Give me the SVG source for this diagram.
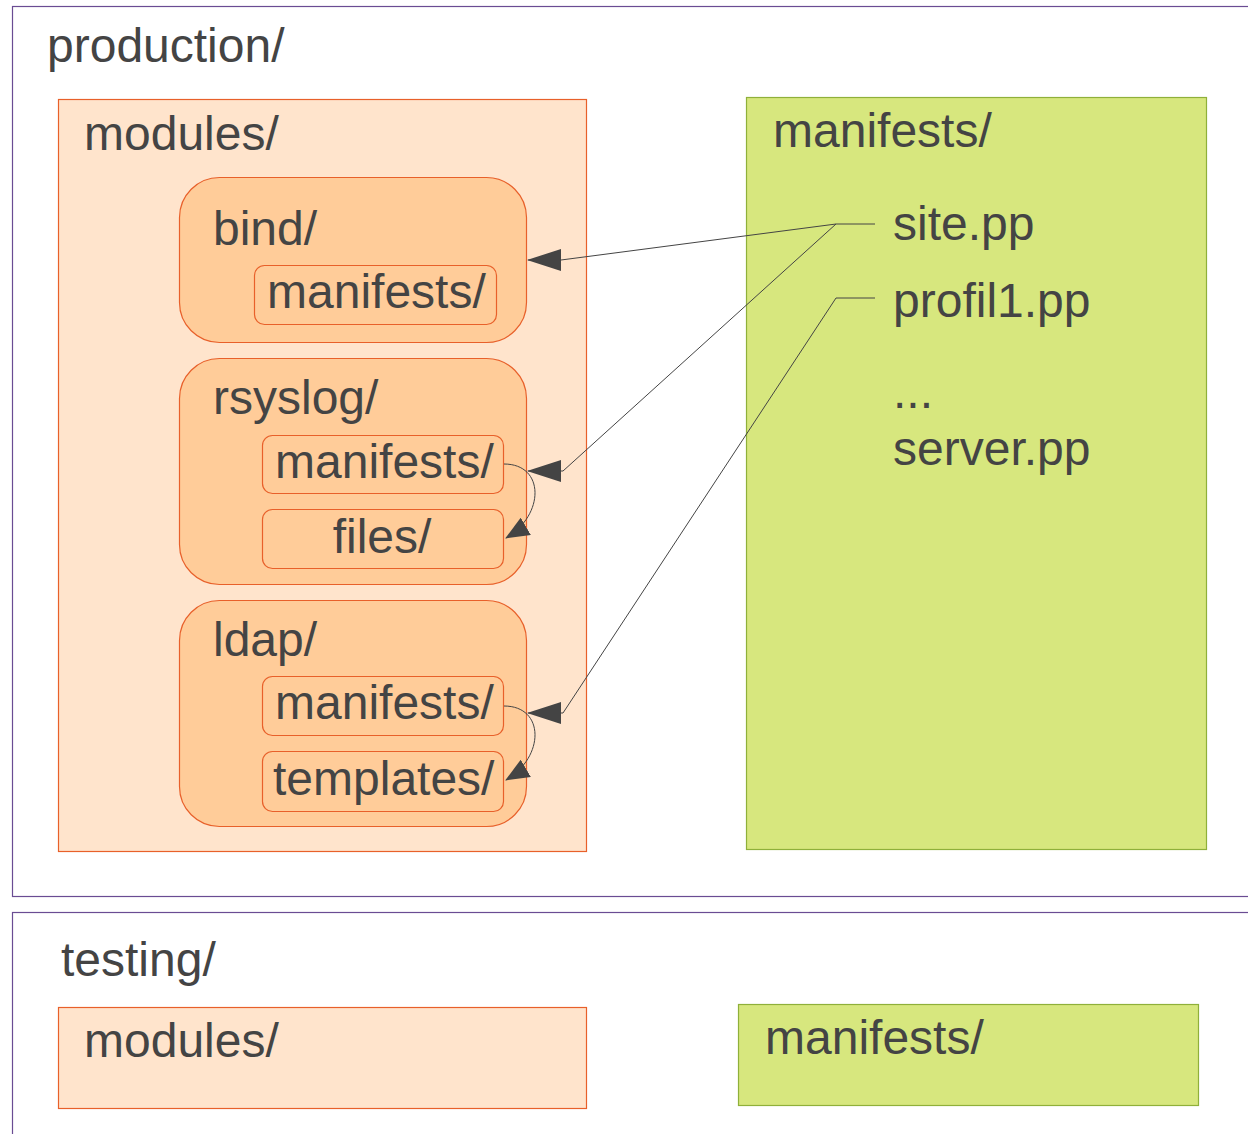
<svg xmlns="http://www.w3.org/2000/svg" width="1248" height="1134" viewBox="0 0 1248 1134">
  <defs>
    <style>
      text { font-family: "Liberation Sans", Arial, sans-serif; font-size: 48px; fill: #444444; }
      .env { fill: #ffffff; stroke: #6a4c93; stroke-width: 1.2; }
      .mods { fill: #ffe4cc; stroke: #e8602a; stroke-width: 1.2; }
      .mod { fill: #ffcc99; stroke: #e8602a; stroke-width: 1.2; }
      .sub { fill: #ffcc99; stroke: #e8602a; stroke-width: 1.2; }
      .mani { fill: #d7e77e; stroke: #8fb03a; stroke-width: 1.2; }
      .conn { fill: none; stroke: #444444; stroke-width: 1; }
    </style>
    <marker id="arrow" viewBox="0 0 34 22" refX="33" refY="11" markerWidth="34" markerHeight="22" markerUnits="userSpaceOnUse" orient="auto">
      <path d="M0,0 L34,11 L0,22 Z" fill="#444444"/>
    </marker>
    <marker id="arrowSmall" viewBox="0 0 24 20" refX="23" refY="10" markerWidth="24" markerHeight="20" markerUnits="userSpaceOnUse" orient="auto">
      <path d="M0,0 L24,10 L0,20 Z" fill="#444444"/>
    </marker>
  </defs>

  <!-- environment: production -->
  <g id="production">
    <rect class="env" x="12.5" y="6.5" width="1245" height="890"/>
    <text x="47" y="62">production/</text>
  </g>

  <!-- environment: testing -->
  <g id="testing">
    <rect class="env" x="12.5" y="912.5" width="1245" height="240"/>
    <text x="61" y="976">testing/</text>
  </g>

  <!-- production modules -->
  <g id="prod-modules">
    <rect class="mods" x="58.5" y="99.5" width="528" height="752"/>
    <text x="84" y="150">modules/</text>
  </g>

  <g id="bind">
    <rect class="mod" x="179.5" y="177.5" width="347" height="165" rx="40"/>
    <text x="213" y="245">bind/</text>
  </g>
  <g id="bind-manifests">
    <rect class="sub" x="254.5" y="265.5" width="242" height="59" rx="10"/>
    <text x="267" y="308">manifests/</text>
  </g>

  <g id="rsyslog">
    <rect class="mod" x="179.5" y="358.5" width="347" height="226" rx="40"/>
    <text x="213" y="414">rsyslog/</text>
  </g>
  <g id="rsyslog-manifests">
    <rect class="sub" x="262.5" y="435.5" width="241" height="58" rx="10"/>
    <text x="275" y="478">manifests/</text>
  </g>
  <g id="rsyslog-files">
    <rect class="sub" x="262.5" y="509.5" width="241" height="59" rx="10"/>
    <text x="382" y="553" text-anchor="middle">files/</text>
  </g>

  <g id="ldap">
    <rect class="mod" x="179.5" y="600.5" width="347" height="226" rx="40"/>
    <text x="213" y="656">ldap/</text>
  </g>
  <g id="ldap-manifests">
    <rect class="sub" x="262.5" y="676.5" width="241" height="59" rx="10"/>
    <text x="275" y="719">manifests/</text>
  </g>
  <g id="ldap-templates">
    <rect class="sub" x="262.5" y="751.5" width="241" height="60" rx="10"/>
    <text x="273" y="795">templates/</text>
  </g>

  <!-- production manifests -->
  <g id="prod-manifests">
    <rect class="mani" x="746.5" y="97.5" width="460" height="752"/>
    <text x="773" y="147">manifests/</text>
    <text x="893" y="240">site.pp</text>
    <text x="893" y="317">profil1.pp</text>
    <text x="893" y="408">...</text>
    <text x="893" y="465">server.pp</text>
  </g>

  <!-- testing modules and manifests -->
  <g id="test-modules">
    <rect class="mods" x="58.5" y="1007.5" width="528" height="101"/>
    <text x="84" y="1057">modules/</text>
  </g>
  <g id="test-manifests">
    <rect class="mani" x="738.5" y="1004.5" width="460" height="101"/>
    <text x="765" y="1054">manifests/</text>
  </g>

  <!-- connectors -->
  <g id="connectors">
    <polyline class="conn" points="875,224 836,224 561,260 528,260" marker-end="url(#arrow)"/>
    <polyline class="conn" points="836,224 563,471 528,471" marker-end="url(#arrow)"/>
    <polyline class="conn" points="875,298 836,298 563,713 528,713" marker-end="url(#arrow)"/>
    <path class="conn" d="M504,464 C545,464 545,515 506,538" marker-end="url(#arrowSmall)"/>
    <path class="conn" d="M504,706 C545,706 545,757 506,780" marker-end="url(#arrowSmall)"/>
  </g>
</svg>
